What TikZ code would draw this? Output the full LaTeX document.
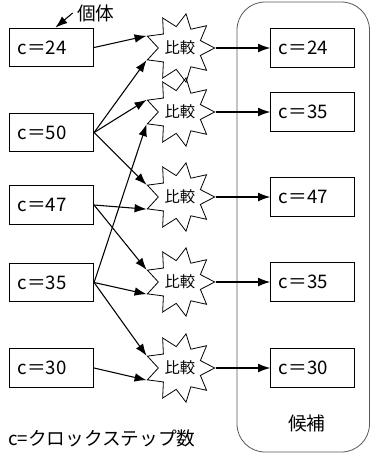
\documentclass[tikz,border=0pt]{standalone}
\usepackage{fontspec}
\setmainfont{Noto Sans CJK JP}
\usetikzlibrary{positioning,arrows.meta,shapes.geometric}

\begin{document}
\begin{tikzpicture}[
			x=0.75pt, y=-0.75pt,
			>={Latex[length=9pt,width=6.5pt]},
			every node/.style={
				font=\fontsize{14pt}{16pt}\selectfont
			},
			indiv/.style={
				draw,
				line width=0.9pt,
				minimum height=29pt,
				text width=51pt,
				inner xsep=6pt,
				align=left
			},
			compare/.style={
				draw,
				line width=0.6pt,
				star,
				star points=9,
				star point ratio=1.6,
				shape border rotate=270,
				minimum size=45pt,
				inner sep=0pt,
				font=\fontsize{11.5pt}{13pt}\selectfont
			}
			]
			
			\useasboundingbox (0,0) rectangle (371,455);
			
			%%%%%%%%%%%%%%%%%%%%%%%%%%%%%%%%%%%%%%%%%%%%%%%%%%%%%%
			% Candidate group
			%%%%%%%%%%%%%%%%%%%%%%%%%%%%%%%%%%%%%%%%%%%%%%%%%%%%%%
			
			\draw[gray!70!black, line width=0.6pt, rounded corners=21pt]
			(237,2) rectangle (369.5,452);
			
			\node (kouho) at (307,423) {候補};
			
			%%%%%%%%%%%%%%%%%%%%%%%%%%%%%%%%%%%%%%%%%%%%%%%%%%%%%%
			% Nodes
			%%%%%%%%%%%%%%%%%%%%%%%%%%%%%%%%%%%%%%%%%%%%%%%%%%%%%%
			
			\node (l1) [indiv] at (51.5,47.5) {c＝24};
			\node (l2) [indiv] at (51.5,132.5) {c＝50};
			\node (l3) [indiv] at (51.5,205) {c＝47};
			\node (l4) [indiv] at (51.5,282.5) {c＝35};
			\node (l5) [indiv] at (51.5,368) {c＝30};
			
			\node (s1) [compare] at (180,48) {比較};
			\node (s2) [compare] at (180,112) {比較};
			\node (s3) [compare] at (180,197) {比較};
			\node (s4) [compare] at (180,282) {比較};
			\node (s5) [compare] at (180,368) {比較};
			
			\node (r1) [indiv, right=41pt of s1] {c＝24};
			\node (r2) [indiv, right=41pt of s2] {c＝35};
			\node (r3) [indiv, right=41pt of s3] {c＝47};
			\node (r4) [indiv, right=41pt of s4] {c＝35};
			\node (r5) [indiv, right=41pt of s5] {c＝30};
			
			\node (kotai) at (96,13) {個体};
			
			\node (legend) [anchor=west, inner sep=0pt] at (8,438)
			{c=クロックステップ数};
			
			%%%%%%%%%%%%%%%%%%%%%%%%%%%%%%%%%%%%%%%%%%%%%%%%%%%%%%
			% Pairing
			%%%%%%%%%%%%%%%%%%%%%%%%%%%%%%%%%%%%%%%%%%%%%%%%%%%%%%
			
			\draw[->,thick] (kotai.west) -- ([xshift=3pt]l1.north);
			
			\draw[->,thick] (l1.east) -- (s1.160);
			\draw[->,thick] (l2.east) -- (s1.200);
			\draw[->,thick] (l2.east) -- (s2.160);
			\draw[->,thick] (l2.east) -- (s3.160);
			\draw[->,thick] (l3.east) -- (s3.200);
			\draw[->,thick] (l3.east) -- (s4.160);
			\draw[->,thick] (l4.east) -- (s2.200);
			\draw[->,thick] (l4.east) -- (s4.200);
			\draw[->,thick] (l4.east) -- (s5.160);
			\draw[->,thick] (l5.east) -- (s5.200);
			
			%%%%%%%%%%%%%%%%%%%%%%%%%%%%%%%%%%%%%%%%%%%%%%%%%%%%%%
			% Winners
			%%%%%%%%%%%%%%%%%%%%%%%%%%%%%%%%%%%%%%%%%%%%%%%%%%%%%%
			
			\draw[->,thick] (s1.east) -- (r1.west);
			\draw[->,thick] (s2.east) -- (r2.west);
			\draw[->,thick] (s3.east) -- (r3.west);
			\draw[->,thick] (s4.east) -- (r4.west);
			\draw[->,thick] (s5.east) -- (r5.west);
			
			%%%%%%%%%%%%%%%%%%%%%%%%%%%%%%%%%%%%%%%%%%%%%%%%%%%%%%
			
		\end{tikzpicture}
\end{document}
